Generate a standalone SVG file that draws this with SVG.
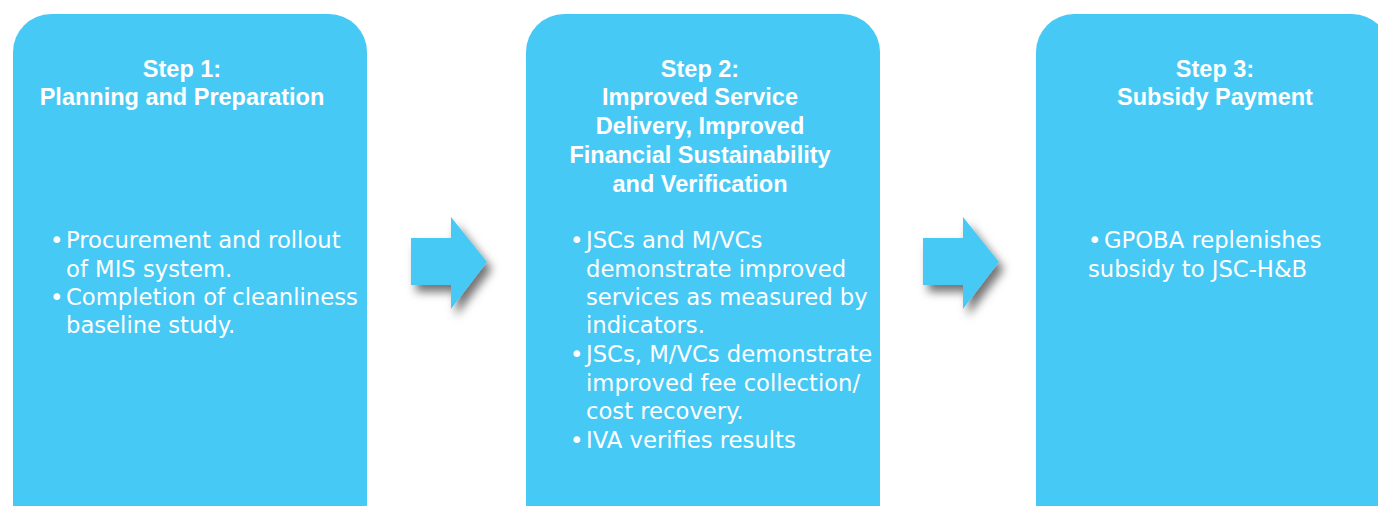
<svg xmlns="http://www.w3.org/2000/svg" width="1378" height="506" viewBox="0 0 1378 506">
<style>
.box{fill:#47C9F6}
.arrow{fill:#47C9F6}
.t{font-family:"Liberation Sans",Arial,sans-serif;font-weight:bold;font-size:23.5px;fill:#fff;text-anchor:middle}
.b{font-family:"DejaVu Sans","Liberation Sans",sans-serif;font-size:22.7px;fill:#fff}
</style>
<defs>
<filter id="sh" x="-40%" y="-40%" width="190%" height="190%">
<feDropShadow dx="5" dy="7" stdDeviation="5" flood-color="#000" flood-opacity="0.55"/>
</filter>
</defs>
<g id="step1">
<rect class="box" x="13" y="14" width="354" height="530" rx="38" ry="38"/>
<text class="t" x="182" y="77">Step 1:</text>
<text class="t" x="182" y="105">Planning and Preparation</text>
<text class="b" x="50" y="248">•<tspan x="66">Procurement and rollout</tspan></text>
<text class="b" x="66" y="277">of MIS system.</text>
<text class="b" x="50" y="305">•<tspan x="66">Completion of cleanliness</tspan></text>
<text class="b" x="66" y="333">baseline study.</text>
</g>
<g id="step2">
<rect class="box" x="526" y="14" width="354" height="530" rx="38" ry="38"/>
<text class="t" x="700" y="77">Step 2:</text>
<text class="t" x="700" y="105">Improved Service</text>
<text class="t" x="700" y="134">Delivery, Improved</text>
<text class="t" x="700" y="163">Financial Sustainability</text>
<text class="t" x="700" y="192">and Verification</text>
<text class="b" x="570" y="248">•<tspan x="586">JSCs and M/VCs</tspan></text>
<text class="b" x="586" y="277">demonstrate improved</text>
<text class="b" x="586" y="305">services as measured by</text>
<text class="b" x="586" y="333">indicators.</text>
<text class="b" x="570" y="362">•<tspan x="586">JSCs, M/VCs demonstrate</tspan></text>
<text class="b" x="586" y="391">improved fee collection/</text>
<text class="b" x="586" y="419">cost recovery.</text>
<text class="b" x="570" y="448">•<tspan x="586">IVA verifies results</tspan></text>
</g>
<g id="step3">
<rect class="box" x="1036" y="14" width="354" height="530" rx="38" ry="38"/>
<text class="t" x="1215" y="77">Step 3:</text>
<text class="t" x="1215" y="105">Subsidy Payment</text>
<text class="b" x="1088" y="248">•<tspan x="1104">GPOBA replenishes</tspan></text>
<text class="b" x="1088" y="277">subsidy to JSC-H&amp;B</text>
</g>
<g id="connectors">
<polygon class="arrow" filter="url(#sh)" points="411,238 451,238 451,217 487,262 451,309 451,285 411,285"/>
<polygon class="arrow" filter="url(#sh)" points="923,238 963,238 963,217 999,262 963,309 963,285 923,285"/>
</g>
</svg>
